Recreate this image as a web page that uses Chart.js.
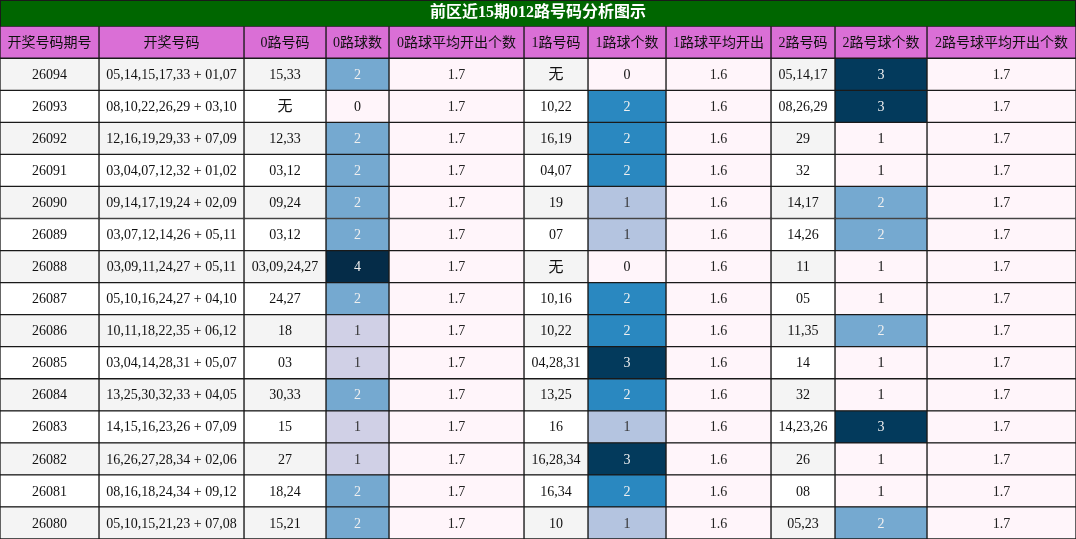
<!DOCTYPE html>
<html><head><meta charset="utf-8">
<script src="https://cdn.jsdelivr.net/npm/chart.js@4"></script>
<style>html,body{margin:0;padding:0;background:#fff}#w{width:1076px;height:539px}</style>
</head><body><div id="w"><canvas id="c"></canvas></div>
<script>
const titleText = '前区近15期012路号码分析图示';
const headers = ['开奖号码期号','开奖号码','0路号码','0路球数','0路球平均开出个数','1路号码','1路球个数','1路球平均开出','2路号码','2路号球个数','2路号球平均开出个数'];
const periods = ['26094','26093','26092','26091','26090','26089','26088','26087','26086','26085','26084','26083','26082','26081','26080'];
const draws = ['05,14,15,17,33 + 01,07','08,10,22,26,29 + 03,10','12,16,19,29,33 + 07,09','03,04,07,12,32 + 01,02','09,14,17,19,24 + 02,09','03,07,12,14,26 + 05,11','03,09,11,24,27 + 05,11','05,10,16,24,27 + 04,10','10,11,18,22,35 + 06,12','03,04,14,28,31 + 05,07','13,25,30,32,33 + 04,05','14,15,16,23,26 + 07,09','16,26,27,28,34 + 02,06','08,16,18,24,34 + 09,12','05,10,15,21,23 + 07,08'];
const zeroCodes = ['15,33','无','12,33','03,12','09,24','03,12','03,09,24,27','24,27','18','03','30,33','15','27','18,24','15,21'];
const zeroCounts = [2,0,2,2,2,2,4,2,1,1,2,1,1,2,2];
const zeroAvg = 1.7;
const oneCodes = ['无','10,22','16,19','04,07','19','07','无','10,16','10,22','04,28,31','13,25','16','16,28,34','16,34','10'];
const oneCounts = [0,2,2,2,1,1,0,2,2,3,2,1,3,2,1];
const oneAvg = 1.6;
const twoCodes = ['05,14,17','08,26,29','29','32','14,17','14,26','11','05','11,35','14','32','14,23,26','26','08','05,23'];
const twoCounts = [3,3,1,1,2,2,1,1,2,1,1,3,1,1,2];
const twoAvg = 1.7;

// layout / style
const edges = [0,99,244,326,389,524,588,666,771,835,927,1076];
const headerBg = '#da6fd6';
const pink = '#fff5fa';
const countColors = [
  {1:'#d0d0e6',2:'#75a9d0',4:'#052c48'},
  {1:'#b4c4e0',2:'#2a88c0',3:'#033a5c'},
  {2:'#75a9d0',3:'#033a5c'}
];
const columns = [
  {vals:periods, kind:'text'},
  {vals:draws, kind:'text'},
  {vals:zeroCodes, kind:'text'},
  {vals:zeroCounts, kind:'count', map:countColors[0]},
  {vals:periods.map(()=>zeroAvg.toFixed(1)), kind:'pink'},
  {vals:oneCodes, kind:'text'},
  {vals:oneCounts, kind:'count', map:countColors[1]},
  {vals:periods.map(()=>oneAvg.toFixed(1)), kind:'pink'},
  {vals:twoCodes, kind:'text'},
  {vals:twoCounts, kind:'count', map:countColors[2]},
  {vals:periods.map(()=>twoAvg.toFixed(1)), kind:'pink'}
];
const rowLabels = ['header', ...periods];

function cellStyle(col, r){ // r = -1 header
  if (r < 0) return {bg:headerBg, fg:'#111'};
  const v = col.vals[r];
  if (col.kind === 'text') return {bg: r%2===0 ? '#f4f4f4' : '#ffffff', fg:'#111'};
  if (col.kind === 'pink') return {bg: pink, fg:'#222'};
  const c = col.map[v];
  if (!c) return {bg: pink, fg:'#111'};
  return {bg:c, fg: v===1 ? '#333' : '#f0f0f0'};
}

const datasets = columns.map((col, i) => {
  const texts = [headers[i], ...col.vals.map(String)];
  const styles = rowLabels.map((_, k) => cellStyle(col, k-1));
  return {
    label: headers[i],
    data: rowLabels.map(() => [edges[i], edges[i+1]]),
    texts,
    fg: styles.map(s=>s.fg),
    backgroundColor: styles.map(s=>s.bg),
    borderColor: '#1a1a1a',
    borderWidth: 1,
    borderSkipped: false,
    grouped: false,
    barPercentage: 1,
    categoryPercentage: 1
  };
});

const titleBg = {
  id:'titleBg',
  beforeDraw(chart){
    const ctx = chart.ctx;
    ctx.save();
    ctx.fillStyle = '#006600';
    ctx.fillRect(0,0,chart.width,chart.chartArea.top);
    ctx.strokeStyle='#1a1a1a'; ctx.lineWidth=1;
    ctx.strokeRect(0.5,0.5,chart.width-1,chart.chartArea.top);
    ctx.restore();
  }
};
const cellText = {
  id:'cellText',
  afterDatasetsDraw(chart){
    const ctx = chart.ctx;
    ctx.save();
    ctx.textAlign='center'; ctx.textBaseline='middle';
    chart.data.datasets.forEach((ds, di) => {
      chart.getDatasetMeta(di).data.forEach((el, k) => {
        const t = ds.texts[k];
        ctx.fillStyle = ds.fg[k];
        ctx.font = (t==='无' ? '15px' : '14px') + ' "Liberation Serif", "Noto Sans CJK SC", serif';
        ctx.fillText(t, (el.x + el.base)/2, el.y + 1);
      });
    });
    ctx.restore();
  }
};

new Chart(document.getElementById('c'), {
  type:'bar',
  data:{labels: rowLabels, datasets},
  plugins:[titleBg, cellText],
  options:{
    indexAxis:'y',
    responsive:true, maintainAspectRatio:false, animation:false,
    layout:{padding:0},
    plugins:{
      legend:{display:false}, tooltip:{enabled:false},
      title:{display:true, text:titleText, color:'#fff', padding:{top:3,bottom:4},
        font:{size:16, weight:'bold', family:'"Liberation Serif", "Noto Sans CJK SC", serif'}}
    },
    scales:{
      x:{type:'linear', min:0, max:1076, display:false},
      y:{type:'category', display:false, offset:true}
    }
  }
});
</script></body></html>
